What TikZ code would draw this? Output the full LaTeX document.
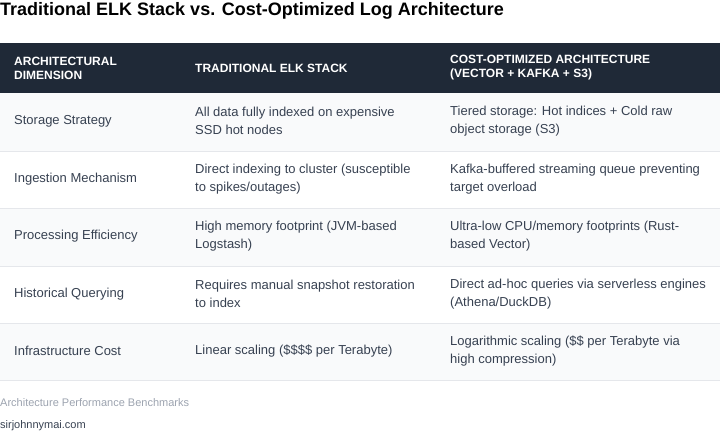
\documentclass[tikz,border=0pt]{standalone}
\usepackage{fontspec}
\setmainfont{Liberation Sans}
\usepackage{xcolor}
\definecolor{headbg}{HTML}{1F2937}
\definecolor{rowbg}{HTML}{F9FAFB}
\definecolor{rule}{HTML}{E5E7EB}
\definecolor{bodytxt}{HTML}{374151}
\definecolor{foot}{HTML}{9CA3AF}
\begin{document}
\begin{tikzpicture}[x=1pt,y=-1pt,
  cell/.style={anchor=west,align=left,inner sep=0pt,font=\fontsize{13}{18.5}\selectfont,text=bodytxt},
  head/.style={anchor=west,align=left,inner sep=0pt,font=\bfseries\fontsize{12}{14}\selectfont,text=white}]
\useasboundingbox (0,0) rectangle (720,432);

\node[anchor=west,inner sep=0pt,font=\bfseries\fontsize{18}{20}\selectfont,text=black] (title) at (0,11) {Traditional ELK Stack vs. Cost-Optimized Log Architecture};

% header
\fill[headbg] (0,43) rectangle (720,93);
\node[head] (h1) at (14,68) {ARCHITECTURAL\\DIMENSION};
\node[head] (h2) at (195,68) {TRADITIONAL ELK STACK};
\node[head] (h3) at (450,68) {COST-OPTIMIZED ARCHITECTURE\\(VECTOR + KAFKA + S3)};

% row backgrounds
\fill[rowbg] (0,93) rectangle (720,151);
\fill[rowbg] (0,208) rectangle (720,266);
\fill[rowbg] (0,323) rectangle (720,380);
\foreach \y in {151,208,266,323,380}
  \draw[rule] (0,\y) -- (720,\y);

% rows
\node[cell] (a1) at (14,121) {Storage Strategy};
\node[cell] (b1) at (195,121) {All data fully indexed on expensive\\SSD hot nodes};
\node[cell] (c1) at (450,121) {Tiered storage: Hot indices + Cold raw\\object storage (S3)};

\node[cell] (a2) at (14,179) {Ingestion Mechanism};
\node[cell] (b2) at (195,179) {Direct indexing to cluster (susceptible\\to spikes/outages)};
\node[cell] (c2) at (450,179) {Kafka-buffered streaming queue preventing\\target overload};

\node[cell] (a3) at (14,236) {Processing Efficiency};
\node[cell] (b3) at (195,236) {High memory footprint (JVM-based\\Logstash)};
\node[cell] (c3) at (450,236) {Ultra-low CPU/memory footprints (Rust-\\based Vector)};

\node[cell] (a4) at (14,294) {Historical Querying};
\node[cell] (b4) at (195,294) {Requires manual snapshot restoration\\to index};
\node[cell] (c4) at (450,294) {Direct ad-hoc queries via serverless engines\\(Athena/DuckDB)};

\node[cell] (a5) at (14,351) {Infrastructure Cost};
\node[cell] (b5) at (195,351) {Linear scaling (\$\$\$\$ per Terabyte)};
\node[cell] (c5) at (450,351) {Logarithmic scaling (\$\$ per Terabyte via\\high compression)};

% footer
\node[anchor=west,inner sep=0pt,font=\fontsize{11}{13}\selectfont,text=foot] (cap) at (0,403) {Architecture Performance Benchmarks};
\node[anchor=west,inner sep=0pt,font=\fontsize{11}{13}\selectfont,text=bodytxt] (src) at (0,426) {sirjohnnymai.com};
\end{tikzpicture}
\end{document}
